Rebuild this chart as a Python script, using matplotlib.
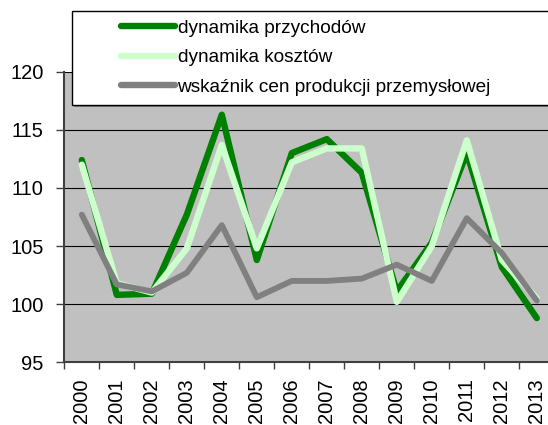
import matplotlib as mpl
mpl.use('Agg')

import matplotlib.pyplot as plt
from matplotlib.patches import Rectangle
from matplotlib.ticker import FixedLocator

plt.rcParams['font.family'] = ['Liberation Sans', 'DejaVu Sans']

# dane
lata = ['2000', '2001', '2002', '2003', '2004', '2005', '2006',
        '2007', '2008', '2009', '2010', '2011', '2012', '2013']
przychody = [112.4, 100.8, 100.9, 107.7, 116.3, 103.8, 113.0,
             114.2, 111.3, 101.1, 105.3, 113.0, 103.2, 98.8]
koszty = [112.0, 101.8, 101.0, 104.8, 113.7, 104.8, 112.2,
          113.4, 113.4, 100.2, 105.0, 114.1, 103.8, 100.5]
ceny = [107.7, 101.7, 101.1, 102.7, 106.8, 100.6, 102.0,
        102.0, 102.2, 103.4, 102.0, 107.4, 104.4, 100.3]

etykiety = ['dynamika przychodów', 'dynamika kosztów',
            'wskaźnik cen produkcji przemysłowej']
kolory = ['#008000', '#CCFFCC', '#808080']

W, H = 548, 425
fig = plt.figure(figsize=(W / 100, H / 100), dpi=100)

# os wykresu wychodzi troche poza prawa krawedz obrazka
ax = fig.add_axes([64.3 / W, 1 - 362.3 / H, 490 / W, 290.6 / H])
ax.set_facecolor('#C0C0C0')

x = list(range(len(lata)))
serie = [przychody, koszty, ceny]
szer = [4.6, 4.6, 4.2]
for y, kol, lw, lab in zip(serie, kolory, szer, etykiety):
    ax.plot(x, y, color=kol, linewidth=lw, label=lab,
            solid_capstyle='round', solid_joinstyle='round', zorder=3)

ax.set_xlim(-0.5, len(lata) - 0.5)
ax.set_ylim(95, 120)
ax.set_yticks([95, 100, 105, 110, 115, 120])
ax.set_xticks(x)
ax.set_xticklabels(lata, rotation=90, fontsize=14.5)
ax.xaxis.set_minor_locator(FixedLocator([i - 0.5 for i in x]))
ax.tick_params(axis='x', which='major', length=0, pad=11.5)
ax.tick_params(axis='x', which='minor', length=5, width=1, color='#404040', direction='out')
ax.tick_params(axis='y', length=6, width=1, color='#404040', pad=9, labelsize=14.5)

ax.grid(axis='y', color='black', linewidth=0.8)
ax.set_axisbelow(True)

for s in ['top', 'right']:
    ax.spines[s].set_visible(False)
for s in ['left', 'bottom']:
    ax.spines[s].set_color('#404040')
    ax.spines[s].set_linewidth(1.5)

# ramka legendy (z cieniem), rysowana recznie
x0, y0, x1, y1 = 71.7, 10.7, 600, 105
cien = Rectangle(((x0 + 2) / W, 1 - (y1 + 2) / H), (x1 - x0) / W, (y1 - y0) / H,
                 transform=fig.transFigure, facecolor='#808080', edgecolor='none', zorder=3.9)
ramka = Rectangle((x0 / W, 1 - y1 / H), (x1 - x0) / W, (y1 - y0) / H,
                  transform=fig.transFigure, facecolor='white', edgecolor='black',
                  linewidth=1, zorder=4)
fig.patches.extend([cien, ramka])

leg = fig.legend(loc='upper left', bbox_to_anchor=(121 / W, 1 - 19.5 / H),
                 frameon=False, fontsize=13.7, borderpad=0, borderaxespad=0,
                 handlelength=2.85, handletextpad=0.12, labelspacing=0.64)
leg.set_zorder(6)
for h in leg.get_lines():
    h.set_linewidth(4.6)
    h.set_solid_capstyle('round')

fig.savefig('out.png', dpi=100)
